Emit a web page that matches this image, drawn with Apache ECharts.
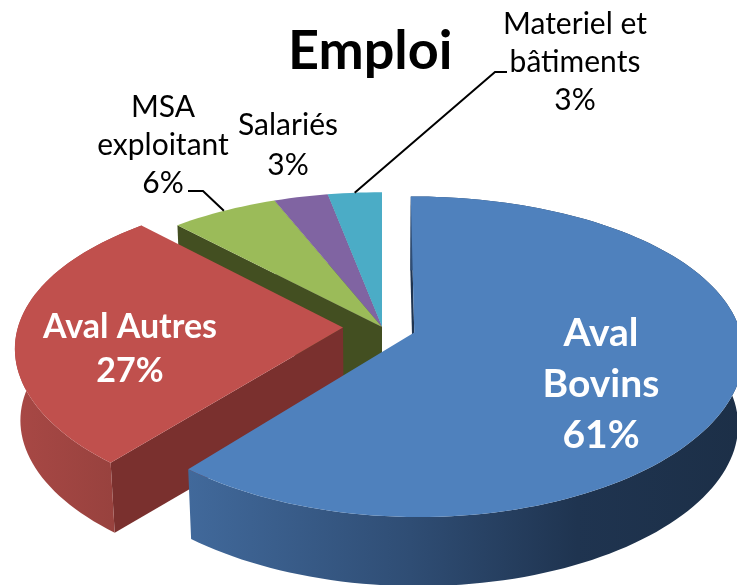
<!DOCTYPE html>
<html>
<head>
<meta charset="utf-8">
<style>html,body{margin:0;padding:0;background:#fff}#c{width:737px;height:585px}</style>
<script src="https://cdn.jsdelivr.net/npm/echarts@6/dist/echarts.min.js"></script>
</head>
<body>
<div id="c"></div>
<script>
// Data (clockwise from 12 o'clock)
var categories = ['Aval Bovins', 'Aval Autres', 'MSA exploitant', 'Salariés', 'Materiel et bâtiments'];
var values = [61, 27, 6, 3, 3];
var labelLines = [['Aval', 'Bovins', '61%'], ['Aval Autres', '27%'], ['MSA', 'exploitant', '6%'], ['Salariés', '3%'], ['Materiel et', 'bâtiments', '3%']];

// Styles and layout, separate from data
var colors = ['#4F81BD', '#C0504D', '#9BBB59', '#8064A2', '#4BACC6'];
var explode = [0.105, 0.12, 0, 0, 0];
var sideColors = ['#1f3450', '#7a302e', '#434f21', '#4a3a5e', '#2b6373'];
var outerWalls = [
  [[0, '#41699b'], [0.4, '#2f4d74'], [0.7, '#1f3450'], [1, '#1c2f47']],
  [[0, '#a84845'], [1, '#93403c']],
  null, null, null
];
var labelStyle = [
  {x: 601, y: 384, size: 39, lh: 51, color: '#fff', weight: 'bold'},
  {x: 130, y: 349, size: 34, lh: 44, color: '#fff', weight: 'bold'},
  {x: 163, y: 145, size: 30, lh: 38, color: '#000', weight: 'normal'},
  {x: 288, y: 145, size: 30, lh: 40, color: '#000', weight: 'normal'},
  {x: 575, y: 62, size: 30, lh: 38, color: '#000', weight: 'normal'}
];
var leaderBends = [null, null, [[188, 191], [203, 191]], null, [[507, 72], [495, 72]]];
var FONT = 'Lato, Carlito, "Open Sans", sans-serif';

// Projection of the tilted pie
var cx = 382, cy = 327, A = 325, B = 155, PX = 0.12, PY = 0.15, H = 72, S = 0.985;
var total = values.reduce(function (a, b) { return a + b; }, 0);
var bounds = [], acc = 0;
values.forEach(function (v) {
  bounds.push([acc / total * 2 * Math.PI, (acc + v) / total * 2 * Math.PI]);
  acc += v;
});
function project(U, V) {
  return [cx + A * U / (1 + PX * V), cy - B * V / (1 + PY * V)];
}
function lower(p) {
  return [cx + S * (p[0] - cx), cy + H + S * (p[1] - cy)];
}
function slicePoint(i, r, ang) {
  var mid = (bounds[i][0] + bounds[i][1]) / 2, e = explode[i];
  return project(r * Math.sin(ang) + e * Math.sin(mid), r * Math.cos(ang) + e * Math.cos(mid));
}
function arc(i) {
  var a0 = bounds[i][0], a1 = bounds[i][1], n = Math.max(4, Math.ceil((a1 - a0) / 0.03)), pts = [];
  for (var k = 0; k <= n; k++) pts.push(slicePoint(i, 1, a0 + (a1 - a0) * k / n));
  return pts;
}
function poly(points, fill, z2) {
  return {type: 'polygon', z2: z2, shape: {points: points}, style: {fill: fill}};
}

function renderSlice(params, api) {
  var i = api.value(0), children = [];
  var base = (values.length - i) * 10;   // back slices first, exploded front slices last
  var apex = slicePoint(i, 0, 0), pts = arc(i);
  var first = pts[0];
  // side wall along the start of the slice
  children.push(poly([apex, first, lower(first), lower(apex)], sideColors[i], base));
  // outer wall
  if (outerWalls[i]) {
    var low = pts.map(lower).reverse();
    var grad = new echarts.graphic.LinearGradient(0, 0, 1, 0, outerWalls[i].map(function (s) {
      return {offset: s[0], color: s[1]};
    }));
    children.push(poly(pts.concat(low), grad, base + 1));
  }
  // top surface
  children.push(poly([apex].concat(pts), colors[i], base + 2));
  return {type: 'group', children: children};
}

function renderLabels(params, api) {
  var i = api.value(0), st = labelStyle[i], lines = labelLines[i], children = [];
  var n = lines.length;
  lines.forEach(function (t, k) {
    children.push({type: 'text', z2: 200, style: {
      x: st.x, y: st.y + (k - (n - 1) / 2) * st.lh, text: t, fill: st.color,
      font: st.weight + ' ' + st.size + 'px ' + FONT, align: 'center', verticalAlign: 'middle'
    }});
  });
  if (leaderBends[i]) {
    var mid = (bounds[i][0] + bounds[i][1]) / 2;
    var end = slicePoint(i, 1, mid);
    children.push({type: 'polyline', z2: 200,
      shape: {points: leaderBends[i].concat([end])},
      style: {stroke: '#000', lineWidth: 2, fill: null}});
  }
  return {type: 'group', children: children};
}

var order = values.map(function (v, i) { return i; });
var chart = echarts.init(document.getElementById('c'), null, {renderer: 'canvas'});
chart.setOption({
  animation: false,
  backgroundColor: '#fff',
  title: {text: 'Emploi', left: 283, top: 20,
    textStyle: {fontFamily: FONT, fontWeight: 'bold', fontSize: 54, color: '#000'}},
  series: [
    {type: 'custom', coordinateSystem: 'none', renderItem: renderSlice, silent: true, clip: false,
      data: order.slice().reverse().map(function (i) { return {name: categories[i], value: [i, values[i]]}; }), z: 2},
    {type: 'custom', coordinateSystem: 'none', renderItem: renderLabels, silent: true, clip: false,
      data: order.map(function (i) { return {name: categories[i], value: [i, values[i]]}; }), z: 3}
  ]
});
</script>
</body>
</html>
